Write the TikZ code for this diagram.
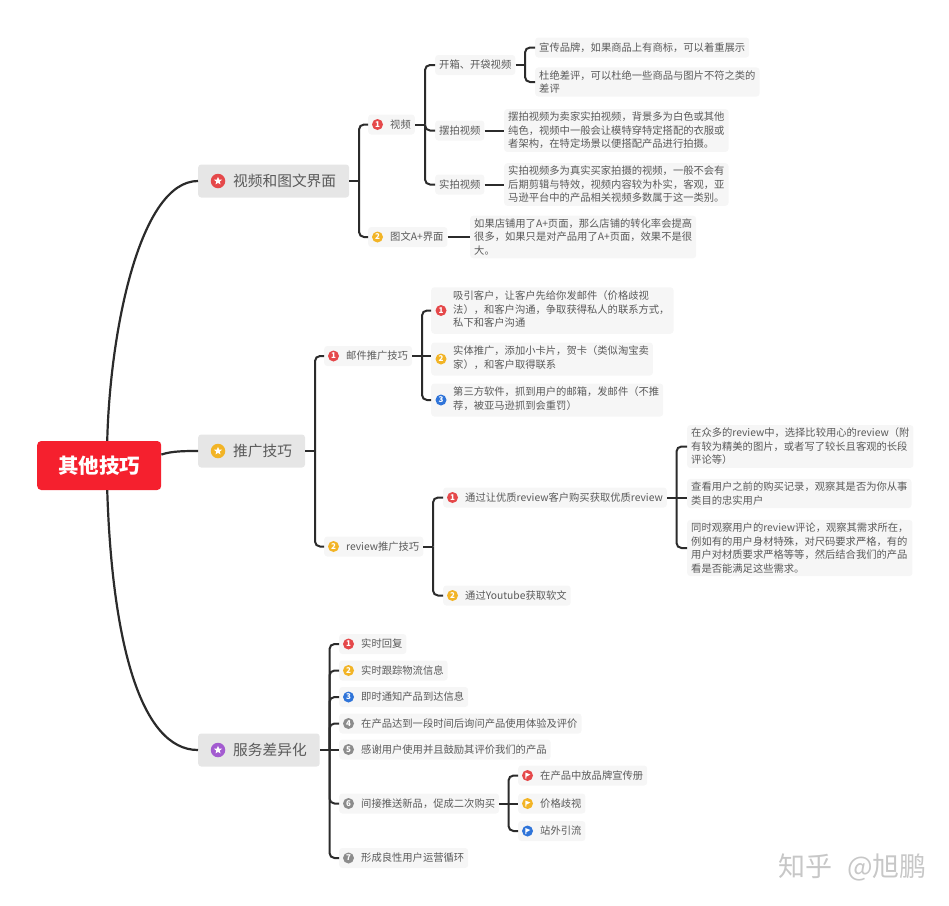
\documentclass[tikz,border=0pt]{standalone}
\usepackage{fontspec}
\setmainfont{Noto Sans CJK SC}
\usetikzlibrary{shapes.geometric}
\definecolor{inkgray}{HTML}{5A5A5A}
\definecolor{linkdark}{HTML}{2B2B2B}
\definecolor{rootred}{HTML}{F5202E}
\definecolor{mainbg}{HTML}{E6E6E6}
\definecolor{tipbg}{HTML}{F6F6F6}
\definecolor{prred}{HTML}{E5484A}
\definecolor{pryellow}{HTML}{F2B426}
\definecolor{prblue}{HTML}{2F74D9}
\definecolor{prgray}{HTML}{8C8C8C}
\definecolor{prpurple}{HTML}{A35BD0}
\newcommand{\rows}[1]{\begin{tabular}{@{}l@{}}#1\end{tabular}}
\begin{document}
\begin{tikzpicture}[
        x=1pt, y=-1pt,
        rootbox/.style={anchor=west, fill=rootred, text=white, rounded corners=4pt, minimum width=124pt,
          minimum height=49pt, inner sep=0pt, font=\fontsize{20.5}{24}\selectfont\bfseries},
        mainbox/.style={anchor=west, fill=mainbg, text=inkgray, rounded corners=3pt, minimum height=33pt,
          inner xsep=13pt, inner ysep=0pt, font=\fontsize{14.7}{18}\selectfont},
        tip/.style={anchor=west, fill=tipbg, text=inkgray, rounded corners=3pt, minimum height=20pt,
          inner xsep=4pt, inner ysep=3pt, align=left, font=\fontsize{10.3}{13.5}\selectfont},
        link/.style={draw=linkdark, line width=2pt, rounded corners=5pt},
        curvelink/.style={draw=linkdark, line width=2.2pt},
        numicon/.style={circle, fill=#1, text=white, minimum size=11pt, inner sep=0pt,
          font=\fontsize{8}{8}\selectfont\bfseries},
        staricon/.style={circle, fill=#1, minimum size=14.5pt, inner sep=0pt, path picture={
          \node[star, star points=5, star point ratio=2.3, fill=white, inner sep=0pt, minimum size=8.5pt]
            at (path picture bounding box.center) {};}},
        flagicon/.style={circle, fill=#1, minimum size=11pt, inner sep=0pt, path picture={
          \fill[white] ([xshift=-2.2pt,yshift=3pt]path picture bounding box.center) -- ++(5pt,-2pt)
            -- ++(-4pt,-2.2pt) -- ++(0pt,-1.8pt) -- ++(-1pt,0pt) -- cycle;}},
        stamp/.style={anchor=west, text=black!22, inner sep=0pt, font=\fontsize{27}{30}\selectfont},
      ]
        \useasboundingbox (0,0) rectangle (949,905);

        % Root and main topics
        \node[rootbox] (root) at (37,465.5) {其他技巧};
        \node[mainbox] (media) at (198,181) {\hspace*{22pt}视频和图文界面};
        \node[mainbox] (promo) at (198,451) {\hspace*{22pt}推广技巧};
        \node[mainbox] (serv)  at (198,750) {\hspace*{22pt}服务差异化};
        \node[staricon=prred]    (mediai) at ([xshift=20pt]media.west) {};
        \node[staricon=pryellow] (promoi) at ([xshift=20pt]promo.west) {};
        \node[staricon=prpurple] (servi)  at ([xshift=20pt]serv.west) {};

        \draw[curvelink] (root.72) .. controls (110,330) and (140,181) .. (media.west);
        \draw[curvelink] (root.10) .. controls (172,451) and (185,451) .. (promo.west);
        \draw[curvelink] (root.-72) .. controls (112,640) and (140,750) .. (serv.west);

        % Video and A+ pages
        \coordinate (tmedia) at (359,0);
        \coordinate (tvideo) at (425,0);
        \coordinate (tunbox) at (525,0);
        \node[tip] (video) at (368,124.5) {\hspace*{18pt}视频};
        \node[tip] (aplus) at (368,237) {\hspace*{18pt}图文A+界面};
        \node[numicon=prred]    (videoi) at ([xshift=9.5pt]video.west) {1};
        \node[numicon=pryellow] (aplusi) at ([xshift=9.5pt]aplus.west) {2};
        \node[tip] (unbox) at (435,65) {开箱、开袋视频};
        \node[tip] (staged) at (435,130.5) {摆拍视频};
        \node[tip] (real) at (435,184.5) {实拍视频};
        \node[tip] (brand) at (535,47.5) {宣传品牌，如果商品上有商标，可以着重展示};
        \node[tip] (badrev) at (535,82) {杜绝差评，可以杜绝一些商品与图片不符之类的\\差评};
        \node[tip] (stagedt) at (504,130.5) {摆拍视频为卖家实拍视频，背景多为白色或其他\\纯色，视频中一般会让模特穿特定搭配的衣服或\\者架构，在特定场景以便搭配产品进行拍摄。};
        \node[tip] (realt) at (504,184.5) {实拍视频多为真实买家拍摄的视频，一般不会有\\后期剪辑与特效，视频内容较为朴实，客观，亚\\马逊平台中的产品相关视频多数属于这一类别。};
        \node[tip] (aplust) at (470,237) {如果店铺用了A+页面，那么店铺的转化率会提高\\很多，如果只是对产品用了A+页面，效果不是很\\大。};

        \draw[link] (media.east) -- (tmedia |- media.east);
        \draw[link] (tmedia |- media.east) |- (video.west);
        \draw[link] (tmedia |- media.east) |- (aplus.west);
        \draw[link] (video.east) -- (tvideo |- video.east);
        \draw[link] (tvideo |- video.east) |- (unbox.west);
        \draw[link] (tvideo |- video.east) |- (staged.west);
        \draw[link] (tvideo |- video.east) |- (real.west);
        \draw[link] (unbox.east) -- (tunbox |- unbox.east);
        \draw[link] (tunbox |- unbox.east) |- (brand.west);
        \draw[link] (tunbox |- unbox.east) |- (badrev.west);
        \draw[link] (staged.east) -- (stagedt.west);
        \draw[link] (real.east) -- (realt.west);
        \draw[link] (aplus.east) -- (aplust.west);

        % Promotion
        \coordinate (tpromo) at (315,0);
        \coordinate (tmail) at (422,0);
        \coordinate (treview) at (433,0);
        \coordinate (tgood) at (676.5,0);
        \node[tip] (mail) at (324,356) {\hspace*{18pt}邮件推广技巧};
        \node[tip] (review) at (324,546.5) {\hspace*{18pt}review推广技巧};
        \node[numicon=prred]    (maili) at ([xshift=9.5pt]mail.west) {1};
        \node[numicon=pryellow] (reviewi) at ([xshift=9.5pt]review.west) {2};
        \node[tip] (attract) at (431,310.5) {\hspace*{18pt}\rows{吸引客户，让客户先给你发邮件（价格歧视\\法），和客户沟通，争取获得私人的联系方式，\\私下和客户沟通}};
        \node[tip] (card) at (431,359) {\hspace*{18pt}\rows{实体推广，添加小卡片，贺卡（类似淘宝卖\\家），和客户取得联系}};
        \node[tip] (soft) at (431,400) {\hspace*{18pt}\rows{第三方软件，抓到用户的邮箱，发邮件（不推\\荐，被亚马逊抓到会重罚）}};
        \node[numicon=prred]    (attracti) at ([xshift=10pt]attract.west) {1};
        \node[numicon=pryellow] (cardi) at ([xshift=10pt]card.west) {2};
        \node[numicon=prblue]   (softi) at ([xshift=10pt]soft.west) {3};
        \node[tip] (good) at (443,497.5) {\hspace*{18pt}通过让优质review客户购买获取优质review};
        \node[tip] (youtube) at (443,595.5) {\hspace*{18pt}通过Youtube获取软文};
        \node[numicon=prred]    (goodi) at ([xshift=9.5pt]good.west) {1};
        \node[numicon=pryellow] (youtubei) at ([xshift=9.5pt]youtube.west) {2};
        \node[tip] (pick) at (687,446.5) {在众多的review中，选择比较用心的review（附\\有较为精美的图片，或者写了较长且客观的长段\\评论等）};
        \node[tip] (history) at (687,493.5) {查看用户之前的购买记录，观察其是否为你从事\\类目的忠实用户};
        \node[tip] (needs) at (687,548) {同时观察用户的review评论，观察其需求所在，\\例如有的用户身材特殊，对尺码要求严格，有的\\用户对材质要求严格等等，然后结合我们的产品\\看是否能满足这些需求。};

        \draw[link] (promo.east) -- (tpromo |- promo.east);
        \draw[link] (tpromo |- promo.east) |- (mail.west);
        \draw[link] (tpromo |- promo.east) |- (review.west);
        \draw[link] (mail.east) -- (tmail |- mail.east);
        \draw[link] (tmail |- mail.east) |- (attract.west);
        \draw[link] (tmail |- mail.east) -- (card.west |- mail.east);
        \draw[link] (tmail |- mail.east) |- (soft.west);
        \draw[link] (review.east) -- (treview |- review.east);
        \draw[link] (treview |- review.east) |- (good.west);
        \draw[link] (treview |- review.east) |- (youtube.west);
        \draw[link] (good.east) -- (tgood |- good.east);
        \draw[link] (tgood |- good.east) |- (pick.west);
        \draw[link] (tgood |- good.east) -- (history.west |- good.east);
        \draw[link] (tgood |- good.east) |- (needs.west);

        % Service
        \coordinate (tserv) at (329.5,0);
        \coordinate (tagain) at (508.5,0);
        \node[tip] (s1) at (339,644) {\hspace*{18pt}实时回复};
        \node[tip] (s2) at (339,670.5) {\hspace*{18pt}实时跟踪物流信息};
        \node[tip] (s3) at (339,697) {\hspace*{18pt}即时通知产品到达信息};
        \node[tip] (s4) at (339,723.5) {\hspace*{18pt}在产品达到一段时间后询问产品使用体验及评价};
        \node[tip] (s5) at (339,749.5) {\hspace*{18pt}感谢用户使用并且鼓励其评价我们的产品};
        \node[tip] (s6) at (339,803.5) {\hspace*{18pt}间接推送新品，促成二次购买};
        \node[tip] (s7) at (339,858) {\hspace*{18pt}形成良性用户运营循环};
        \node[numicon=prred]    (s1i) at ([xshift=9.5pt]s1.west) {1};
        \node[numicon=pryellow] (s2i) at ([xshift=9.5pt]s2.west) {2};
        \node[numicon=prblue]   (s3i) at ([xshift=9.5pt]s3.west) {3};
        \node[numicon=prgray]   (s4i) at ([xshift=9.5pt]s4.west) {4};
        \node[numicon=prgray]   (s5i) at ([xshift=9.5pt]s5.west) {5};
        \node[numicon=prgray]   (s6i) at ([xshift=9.5pt]s6.west) {6};
        \node[numicon=prgray]   (s7i) at ([xshift=9.5pt]s7.west) {7};
        \node[tip] (f1) at (518,775.5) {\hspace*{18pt}在产品中放品牌宣传册};
        \node[tip] (f2) at (518,803.5) {\hspace*{18pt}价格歧视};
        \node[tip] (f3) at (518,831) {\hspace*{18pt}站外引流};
        \node[flagicon=prred]    (f1i) at ([xshift=9.5pt]f1.west) {};
        \node[flagicon=pryellow] (f2i) at ([xshift=9.5pt]f2.west) {};
        \node[flagicon=prblue]   (f3i) at ([xshift=9.5pt]f3.west) {};

        \draw[link] (serv.east) -- (tserv |- serv.east);
        \draw[link] (tserv |- serv.east) |- (s1.west);
        \draw[link] (tserv |- serv.east) |- (s2.west);
        \draw[link] (tserv |- serv.east) |- (s3.west);
        \draw[link] (tserv |- serv.east) |- (s4.west);
        \draw[link] (tserv |- serv.east) -- (s5.west |- serv.east);
        \draw[link] (tserv |- serv.east) |- (s6.west);
        \draw[link] (tserv |- serv.east) |- (s7.west);
        \draw[link] (s6.east) -- (tagain |- s6.east);
        \draw[link] (tagain |- s6.east) |- (f1.west);
        \draw[link] (tagain |- s6.east) -- (f2.west);
        \draw[link] (tagain |- s6.east) |- (f3.west);

        \node[stamp] (credit) at (778,867) {知乎\hspace{15pt}@旭鹏};
      \end{tikzpicture}
\end{document}
